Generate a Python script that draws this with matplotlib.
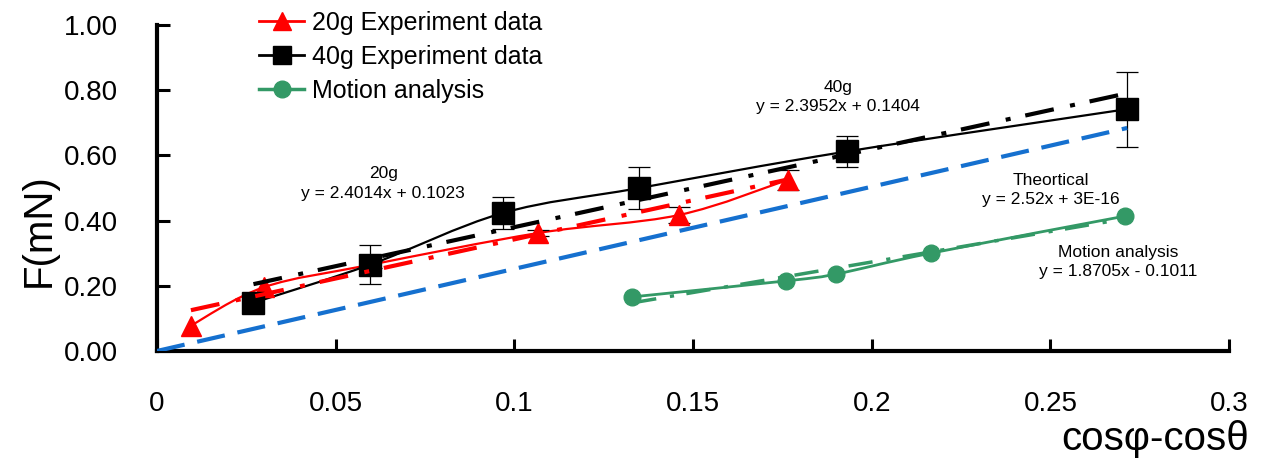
import numpy as np
import matplotlib
matplotlib.use('Agg')
from matplotlib import pyplot as plt
from matplotlib.path import Path
from matplotlib.patches import PathPatch
from matplotlib.lines import Line2D

plt.rcParams['font.family'] = ['Liberation Sans', 'DejaVu Sans']

# 20g experiment
x20 = [0.0095, 0.030, 0.060, 0.1067, 0.146, 0.1765]
y20 = [0.078, 0.196, 0.265, 0.362, 0.417, 0.525]
e20 = [0.0, 0.0, 0.010, 0.008, 0.025, 0.030]

# 40g experiment
x40 = [0.027, 0.0597, 0.0967, 0.135, 0.193, 0.2715]
y40 = [0.148, 0.265, 0.423, 0.500, 0.612, 0.742]
e40 = [0.010, 0.060, 0.049, 0.065, 0.048, 0.115]

# motion analysis
xm = [0.133, 0.176, 0.190, 0.2165, 0.271]
ym = [0.166, 0.215, 0.236, 0.300, 0.414]

# trendlines: slope, intercept, x range
fit20 = (2.4014, 0.1023, 0.0095, 0.1765)
fit40 = (2.3952, 0.1404, 0.027, 0.2715)
fit_th = (2.52, 3e-16, 0.0, 0.2715)
fit_m = (1.8705, -0.1011, 0.133, 0.271)

xticks = [0, 0.05, 0.1, 0.15, 0.2, 0.25, 0.3]
xticklabels = ['0', '0.05', '0.1', '0.15', '0.2', '0.25', '0.3']
yticks = [0, 0.2, 0.4, 0.6, 0.8, 1.0]
yticklabels = ['0.00', '0.20', '0.40', '0.60', '0.80', '1.00']

RED = '#ff0000'
GREEN = '#339966'
BLUE = '#1570cf'
DASHDOT = (0, (7.0, 4.0, 1.2, 3.6))
DASHED = (0, (6.8, 3.1))


def smooth_path(xs, ys):
    # excel style smoothed line: cubic bezier through the points
    pts = np.column_stack([xs, ys])
    n = len(pts)
    verts = [pts[0]]
    codes = [Path.MOVETO]
    for i in range(n - 1):
        p0 = pts[i - 1] if i > 0 else pts[i]
        p3 = pts[i + 2] if i + 2 < n else pts[i + 1]
        c1 = pts[i] + (pts[i + 1] - p0) / 6
        c2 = pts[i + 1] - (p3 - pts[i]) / 6
        verts += [c1, c2, pts[i + 1]]
        codes += [Path.CURVE4] * 3
    return Path(verts, codes)


def trend(ax, fit, color, ls, lw=3):
    a, b, x0, x1 = fit
    ax.plot([x0, x1], [a * x0 + b, a * x1 + b], color=color, ls=ls, lw=lw,
            zorder=5, solid_capstyle='butt', dash_capstyle='butt')


fig = plt.figure(figsize=(12.71, 4.59), dpi=100)
ax = fig.add_axes([0.1235, 0.2353, 0.967 - 0.1235, 0.9455 - 0.2353])

series = [(x20, y20, e20, RED, '^', 14, 1.6),
          (x40, y40, e40, 'black', 's', 16, 1.6),
          (xm, ym, None, GREEN, 'o', 12, 2.0)]
for xs, ys, es, c, mk, ms, lw in series:
    ax.add_patch(PathPatch(smooth_path(xs, ys), fill=False, edgecolor=c,
                           lw=lw, zorder=2))
    if es is not None:
        keep = np.array(es) > 0
        ax.errorbar(np.array(xs)[keep], np.array(ys)[keep], yerr=np.array(es)[keep],
                    fmt='none', ecolor='black', elinewidth=0.9,
                    capsize=8, capthick=0.9, zorder=3)
    ax.plot(xs, ys, ls='none', marker=mk, ms=ms, color=c, mec=c, zorder=4)

trend(ax, fit20, RED, DASHDOT)
trend(ax, fit40, 'black', DASHDOT)
trend(ax, fit_th, BLUE, DASHED)
trend(ax, fit_m, GREEN, DASHDOT, lw=2.5)

ax.text(0.0633, 0.514, '20g\ny = 2.4014x + 0.1023', ha='center', va='center',
        fontsize=12.5, linespacing=1.35)
ax.text(0.1905, 0.779, '40g\ny = 2.3952x + 0.1404', ha='center', va='center',
        fontsize=12.5, linespacing=1.35)
ax.text(0.250, 0.494, 'Theortical\ny = 2.52x + 3E-16', ha='center', va='center',
        fontsize=12.5, linespacing=1.35)
ax.text(0.269, 0.273, 'Motion analysis\ny = 1.8705x - 0.1011', ha='center',
        va='center', fontsize=12.5, linespacing=1.35)

ax.set_xlim(0, 0.3)
ax.set_ylim(0, 1.0)
ax.set_xticks(xticks)
ax.set_xticklabels(xticklabels)
ax.set_yticks(yticks)
ax.set_yticklabels(yticklabels)
ax.tick_params(axis='both', direction='in', length=9, width=2.2, labelsize=20)
ax.tick_params(axis='x', pad=29)
ax.tick_params(axis='y', pad=28)
for s in ['top', 'right']:
    ax.spines[s].set_visible(False)
for s in ['left', 'bottom']:
    ax.spines[s].set_linewidth(3)

ax.set_ylabel('F(mN)', fontsize=29)
ax.yaxis.set_label_coords(-0.093, 0.371)
fig.text(1155 / 1271, 1 - 439 / 459, 'cosφ-cosθ', fontsize=29,
         ha='center', va='center')

handles = [Line2D([], [], color=RED, lw=2, marker='^', ms=13),
           Line2D([], [], color='black', lw=2, marker='s', ms=13),
           Line2D([], [], color=GREEN, lw=2.5, marker='o', ms=12)]
labels = ['20g Experiment data', '40g Experiment data', 'Motion analysis']
fig.legend(handles, labels, loc='upper left', bbox_to_anchor=(249 / 1271, 1 - 1 / 459),
           frameon=False, fontsize=18, handlelength=1.8, handletextpad=0.3,
           labelspacing=0.4, borderaxespad=0)

fig.savefig('out.png', dpi=100)
